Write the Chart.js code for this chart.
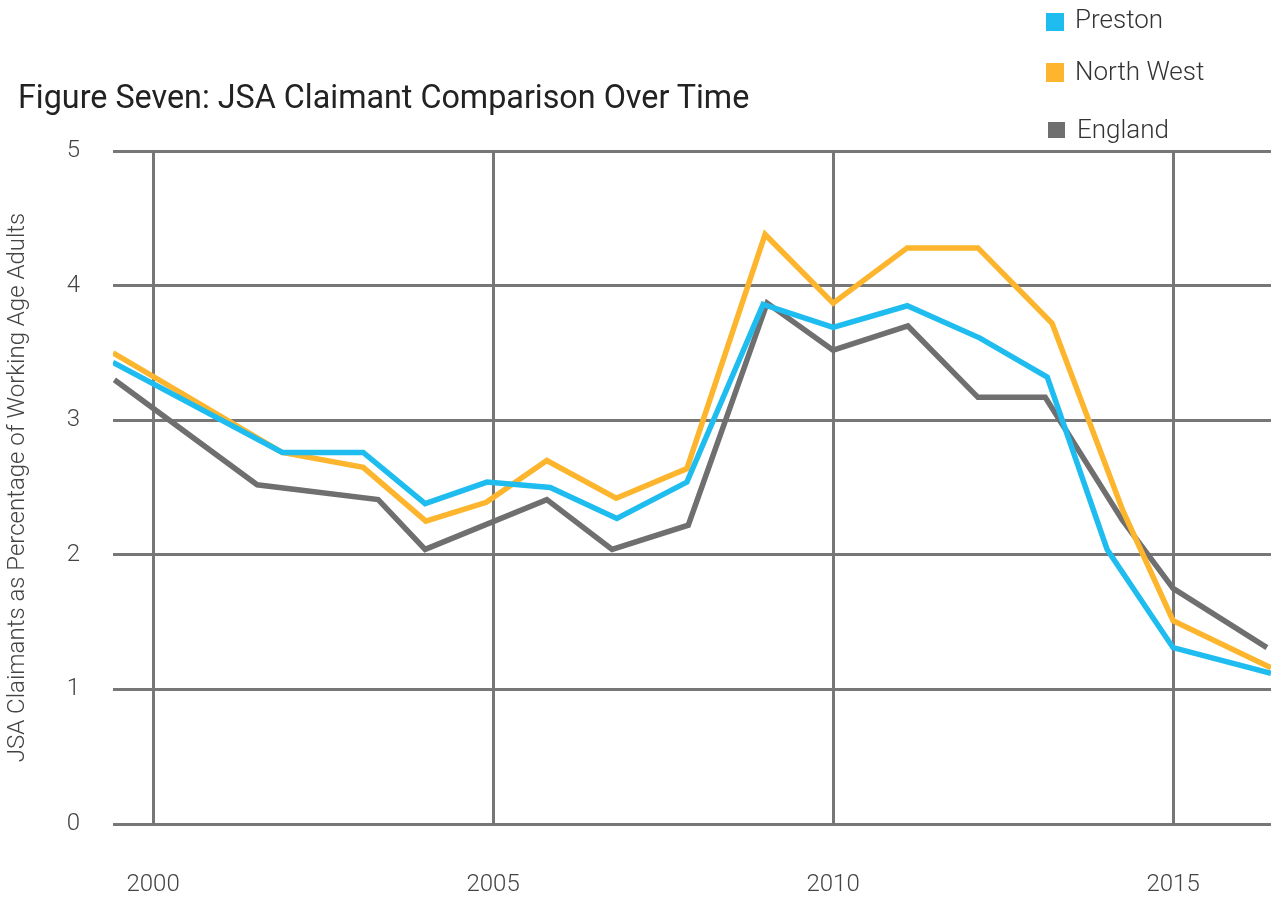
<!DOCTYPE html>
<html>
<head>
<meta charset="utf-8">
<script src="https://cdn.jsdelivr.net/npm/chart.js@4.4.1/dist/chart.umd.min.js"></script>
<style>
  html, body { margin: 0; padding: 0; background: #fff; }
  body { width: 1271px; height: 897px; position: relative; overflow: hidden; font-family: Roboto, sans-serif; }
  #wrap { position: absolute; left: 0; top: 0; width: 1271px; height: 897px; }
  .title { position: absolute; left: 18px; top: 81px; font-size: 32.3px; line-height: 1; color: #222; white-space: nowrap; }
  .key { position: absolute; font-size: 26px; font-weight: 300; line-height: 1; color: #333; white-space: nowrap; }
  .sw { position: absolute; }
</style>
</head>
<body>
<div id="wrap"><canvas id="jsaChart"></canvas></div>
<div class="title">Figure Seven: JSA Claimant Comparison Over Time</div>
<div class="sw" style="left:1046px;top:13px;width:18px;height:18px;background:#1FBDEF"></div>
<div class="key" style="left:1075px;top:6px">Preston</div>
<div class="sw" style="left:1046px;top:63px;width:18px;height:19px;background:#FDB52D"></div>
<div class="key" style="left:1075px;top:58px">North West</div>
<div class="sw" style="left:1048px;top:122px;width:17px;height:16px;background:#6F6F6F"></div>
<div class="key" style="left:1077px;top:116px">England</div>
<script>
// values (year, % of working age adults)
var prestonYears = [1999.41, 2001.9, 2003.09, 2004.0, 2004.91, 2005.84, 2006.82, 2007.85, 2008.97, 2010.0, 2011.09, 2012.16, 2013.15, 2014.03, 2015.0, 2016.44];
var prestonVals  = [3.43, 2.76, 2.76, 2.38, 2.54, 2.50, 2.27, 2.54, 3.86, 3.69, 3.85, 3.61, 3.32, 2.04, 1.31, 1.12];

var northWestYears = [1999.41, 2001.9, 2003.09, 2004.01, 2004.9, 2005.79, 2006.81, 2007.85, 2009.0, 2010.0, 2011.09, 2012.13, 2013.22, 2014.26, 2015.0, 2016.44];
var northWestVals  = [3.50, 2.76, 2.65, 2.25, 2.39, 2.70, 2.42, 2.64, 4.38, 3.87, 4.28, 4.28, 3.72, 2.33, 1.51, 1.16];

var englandYears = [1999.43, 2001.53, 2003.31, 2004.0, 2005.79, 2006.75, 2007.87, 2009.03, 2010.0, 2011.1, 2012.13, 2013.12, 2014.25, 2015.0, 2016.38];
var englandVals  = [3.30, 2.52, 2.41, 2.04, 2.41, 2.04, 2.22, 3.87, 3.52, 3.70, 3.17, 3.17, 2.26, 1.75, 1.31];

var xTicks = [2000, 2005, 2010, 2015];
var yTicks = [0, 1, 2, 3, 4, 5];

function pts(xs, ys) {
  return xs.map(function (x, i) { return { x: x, y: ys[i] }; });
}

Chart.defaults.font.family = 'Roboto';
Chart.defaults.color = '#444';

var ctx = document.getElementById('jsaChart').getContext('2d');
var chart = new Chart(ctx, {
  type: 'line',
  data: {
    datasets: [
      { label: 'Preston', data: pts(prestonYears, prestonVals), borderColor: '#1FBDEF' },
      { label: 'North West', data: pts(northWestYears, northWestVals), borderColor: '#FDB52D' },
      { label: 'England', data: pts(englandYears, englandVals), borderColor: '#6F6F6F' }
    ]
  },
  options: {
    responsive: true,
    maintainAspectRatio: false,
    animation: false,
    layout: { padding: { top: 151, right: 0, bottom: 0, left: 0 } },
    elements: {
      line: { borderWidth: 5.5, tension: 0, fill: false, borderCapStyle: 'butt' },
      point: { radius: 0, hoverRadius: 0 }
    },
    plugins: { legend: { display: false }, tooltip: { enabled: false } },
    scales: {
      x: {
        type: 'linear',
        min: 1999.41,
        max: 2016.44,
        afterBuildTicks: function (s) { s.ticks = xTicks.map(function (v) { return { value: v }; }); },
        afterFit: function (s) { s.height = 73; },
        grid: { color: '#777', lineWidth: 3, drawTicks: false },
        border: { display: false },
        ticks: {
          padding: 47,
          maxRotation: 0,
          font: { size: 24, weight: 300 },
          color: '#444',
          callback: function (v) { return String(v); }
        }
      },
      y: {
        min: 0,
        max: 5,
        afterBuildTicks: function (s) { s.ticks = yTicks.map(function (v) { return { value: v }; }); },
        afterFit: function (s) { s.width = 113; },
        grid: { color: '#777', lineWidth: 3, drawTicks: false },
        border: { display: false },
        ticks: {
          padding: 33,
          font: { size: 24, weight: 300 },
          color: '#444'
        },
        title: {
          display: true,
          text: 'JSA Claimants as Percentage of Working Age Adults',
          font: { size: 24, weight: 300 },
          color: '#444',
          padding: { top: 4, bottom: 0 }
        }
      }
    }
  }
});
</script>
</body>
</html>
